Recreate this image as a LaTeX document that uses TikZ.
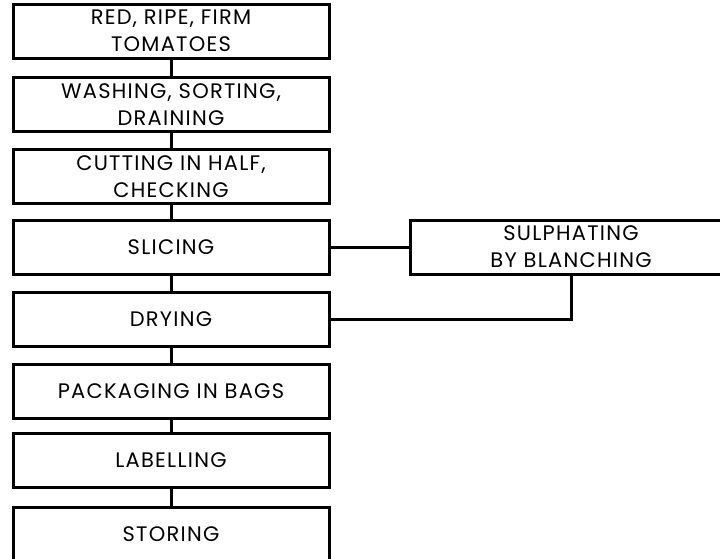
\documentclass[tikz,border=0pt]{standalone}
\usepackage{fontspec}
\setmainfont[LetterSpace=6]{Poppins}
\usetikzlibrary{positioning}

\begin{document}
\begin{tikzpicture}[x=1pt,y=-1pt,
  stagebox/.style={draw,line width=3pt,minimum width=316pt,minimum height=54pt,
    inner sep=0pt,align=center,font=\fontsize{21}{27}\selectfont},
  link/.style={line width=3pt}]
\clip (0,0) rectangle (720,558);
% main line of the process
\node[stagebox] (tomatoes) at (171,31)    {RED, RIPE, FIRM\\TOMATOES};
\node[stagebox] (washing)  at (171,104.5) {WASHING, SORTING,\\DRAINING};
\node[stagebox] (cutting)  at (171,176.5) {CUTTING IN HALF,\\CHECKING};
\node[stagebox] (slicing)  at (171,247)   {SLICING};
\node[stagebox] (drying)   at (171,319.5) {DRYING};
\node[stagebox] (bagging)  at (171,391.5) {PACKAGING IN BAGS};
\node[stagebox] (labelling) at (171,460)  {LABELLING};
\node[stagebox] (storing)  at (171,534)   {STORING};
% side step
\node[stagebox,minimum width=322pt] (sulphating) at (571,247) {SULPHATING\\BY BLANCHING};
\draw[link] (tomatoes) -- (washing);
\draw[link] (washing) -- (cutting);
\draw[link] (cutting) -- (slicing);
\draw[link] (slicing) -- (drying);
\draw[link] (drying) -- (bagging);
\draw[link] (bagging) -- (labelling);
\draw[link] (labelling) -- (storing);
\draw[link] (slicing) -- (sulphating);
\draw[link] (sulphating.south) |- (drying.east);
\end{tikzpicture}
\end{document}
